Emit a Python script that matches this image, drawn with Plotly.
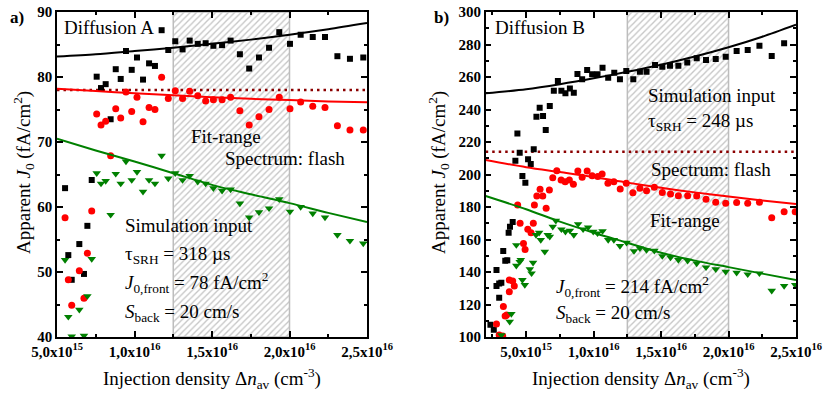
import plotly.graph_objects as go

E15 = 1e15

# ---------------- Panel a (Diffusion A) ----------------
xa = [5.52, 5.73, 5.95, 6.44, 6.74, 6.96, 7.24, 7.56, 7.84, 8.14, 8.46, 8.79, 9.11, 9.45,
      9.82, 10.16, 10.55, 10.94, 11.32, 11.75, 12.18, 12.63, 13.1, 13.56, 14.08, 14.59,
      15.09, 15.65, 16.2, 16.8, 17.4, 18.03, 18.68, 19.34, 20.03, 20.72, 21.5, 22.29,
      23.09, 23.9, 24.76]
ya_black = [62.9, 52.6, 48.8, 54.3, 49.7, 57.1, 64.15, 80.05, 78.3, 78.9, 73.5, 81.2, 79.7, 84.0,
            81.1, 83.0, 79.6, 82.1, 81.7, 87.2, 84.15, 85.5, 84.25, 85.6, 85.1, 85.2,
            84.8, 84.9, 85.6, 83.5, 81.3, 83.0, 84.5, 86.9, 85.1, 86.5, 86.15, 86.15,
            83.2, 82.8, 83.0]
ya_red = [58.35, 48.8, 44.9, 50.2, 45.95, 52.9, 59.4, 74.3, 72.6, 73.2, 67.9, 75.1, 73.7, 77.7,
          74.7, 76.9, 73.1, 75.3, 75.0, 79.95, 76.7, 77.9, 76.7, 77.8, 77.1, 76.3,
          76.5, 76.5, 76.9, 74.8, 72.6, 73.9, 75.0, 76.9, 75.1, 76.15, 75.5, 75.3,
          72.5, 71.85, 71.85]
ya_green = [51.85, 43.1, 40.1, 44.2, 40.2, 46.3, 52.0, 65.2, 63.6, 64.0, 58.8, 65.1, 63.6, 67.0,
            64.15, 65.4, 62.35, 64.15, 63.6, 67.9, 64.4, 65.2, 64.15, 64.8, 63.9, 63.6,
            62.9, 62.5, 62.7, 60.55, 58.4, 59.2, 59.8, 61.2, 59.3, 60.0, 59.0, 58.4,
            55.7, 54.8, 54.4]
fit_x = [5, 7.5, 10, 12.5, 15, 17.5, 20, 22.5, 25]
fit_a_black = [83.15, 83.5, 84.0, 84.5, 85.1, 85.75, 86.5, 87.35, 88.3]
fit_a_red = [78.2, 77.85, 77.5, 77.2, 76.9, 76.65, 76.45, 76.25, 76.1]
fit_a_green = [70.5, 68.7, 67.0, 65.2, 63.4, 61.95, 60.6, 59.1, 57.7]
j0_front_a = 78
range_a_x = [5, 25]
range_a_y = [40, 90]

# ---------------- Panel b (Diffusion B) ----------------
xb_black = [2.35, 2.6, 2.8, 2.8, 3.0, 3.0, 3.16, 3.3, 3.45, 3.6, 3.7, 3.8, 4.0, 4.2, 4.35, 4.52,
            4.72, 4.94, 5.14, 5.34, 5.56, 5.76, 6.0, 6.25, 6.45, 6.75, 7.05, 7.35, 7.61, 7.91,
            8.24, 8.53, 8.8, 9.15, 9.52, 9.89, 10.29, 10.66, 11.08, 11.53, 11.95, 12.42, 12.94,
            13.43, 13.92, 14.55, 15.09, 15.66, 16.28, 16.94, 17.64, 18.33, 19.05, 19.79, 20.6,
            21.42, 22.29, 23.2, 24.12]
yb_black = [107.5, 104.5, 141.2, 131.4, 133.0, 124.2, 133.4, 152.9, 147.0, 147.2, 164.2, 167.9,
            170.8, 208.5, 225.3, 213.4, 199.1, 195.0, 209.4, 206.5, 215.5, 235.6, 241.1, 236.0,
            227.4, 242.2, 251.6, 257.5, 251.6, 250.0, 253.0, 250.3, 261.8, 258.6, 264.3, 261.7,
            261.7, 265.7, 259.6, 262.6, 258.6, 263.7, 258.6, 263.3, 263.3, 267.4, 266.3, 267.0,
            267.0, 269.0, 271.5, 270.5, 271.1, 272.5, 276.0, 276.6, 279.3, 272.9, 280.7]
xb_red = [2.8, 3.0, 3.14, 3.26, 3.31, 3.44, 3.56, 3.75, 3.75, 4.0, 4.12, 4.37, 4.55, 4.8, 4.92,
          5.12, 5.36, 5.53, 5.61, 5.79, 6.03, 6.23, 6.48, 6.72, 6.97, 7.27, 7.59, 7.89, 8.2, 8.5,
          8.83, 9.15, 9.52, 9.89, 10.31, 10.63, 11.06, 11.5, 11.97, 12.42, 12.91, 13.43, 13.92,
          14.5, 15.09, 15.7, 16.28, 16.97, 17.64, 18.33, 19.05, 19.79, 20.6, 21.42, 22.29,
          23.2, 24.12, 24.94]
yb_red = [108.0, 101.2, 100.2, 100.6, 118.7, 112.9, 113.5, 127.9, 135.1, 134.5, 131.4, 181.2,
          170.0, 157.6, 153.9, 166.3, 164.2, 170.0, 181.2, 186.8, 190.9, 186.8, 179.2, 190.5,
          198.0, 202.3, 196.6, 195.6, 196.6, 194.0, 202.2, 198.3, 202.2, 199.3, 198.7, 200.3,
          194.6, 195.6, 191.1, 194.6, 188.8, 191.5, 190.0, 192.1, 189.0, 188.0, 187.0, 187.0,
          186.8, 184.7, 182.9, 182.3, 182.7, 182.3, 182.9, 173.4, 177.1, 177.1]
xb_green = [3.16, 3.78, 3.9, 4.27, 4.27, 4.52, 4.6, 4.72, 4.9, 5.27, 5.4, 5.51, 5.73, 5.96, 6.08,
            6.38, 6.6, 6.75, 6.97, 7.2, 7.61, 7.91, 8.24, 8.53, 8.85, 9.22, 9.59, 9.97, 10.29,
            10.66, 11.08, 11.5, 11.95, 12.44, 12.99, 13.43, 13.92, 14.5, 15.09, 15.7, 16.28,
            16.97, 17.64, 18.33, 19.05, 19.79, 20.6, 21.42, 22.29, 23.2, 24.12, 24.94]
yb_green = [101.2, 109.4, 114.2, 156.6, 143.9, 146.3, 147.4, 135.1, 132.0, 141.7, 139.2, 145.7,
            162.8, 164.2, 159.7, 152.5, 162.8, 161.7, 167.9, 171.6, 166.3, 164.8, 165.5, 162.8,
            169.5, 166.3, 167.5, 164.8, 163.8, 165.2, 159.7, 159.7, 156.0, 158.0, 152.9, 154.6,
            153.5, 153.1, 149.8, 149.0, 147.4, 147.0, 145.3, 142.9, 141.7, 140.2, 139.6, 138.6,
            139.2, 128.5, 131.4, 132.0]
fit_xb = [2, 5, 7.5, 10, 12.5, 15, 17.5, 20, 22.5, 25]
fit_b_black = [250.0, 252.5, 255.6, 259.2, 263.2, 267.6, 272.6, 278.3, 284.8, 292.2]
fit_b_red = [208.9, 204.5, 201.5, 198.5, 195.0, 191.8, 189.0, 186.4, 184.0, 181.8]
fit_b_green = [186.8, 178.6, 171.0, 164.2, 158.0, 151.8, 147.0, 143.0, 139.0, 135.1]
j0_front_b = 214
range_b_x = [2, 25]
range_b_y = [100, 300]

fit_range = [12.5, 20]
xtick_vals = [5, 10, 15, 20, 25]
xtick_text = ["5,0x10<sup>15</sup>", "1,0x10<sup>16</sup>", "1,5x10<sup>16</sup>",
              "2,0x10<sup>16</sup>", "2,5x10<sup>16</sup>"]

FONT = "Liberation Serif"
BLACK, RED, GREEN, MAROON = "#000000", "#ff0000", "#008000", "#8b0000"

fig = go.Figure()


def sc(v):
    return [t * E15 for t in v]


def add_panel(xr, yr, x_b, y_b, x_r, y_r, x_g, y_g, fx, fb, fr, fg, j0, xa_, ya_):
    # hatched fit range
    fig.add_trace(go.Scatter(
        x=sc([fit_range[0], fit_range[1], fit_range[1], fit_range[0], fit_range[0]]),
        y=[yr[0], yr[0], yr[1], yr[1], yr[0]], mode="lines", fill="toself",
        fillcolor="rgba(0,0,0,0)",
        fillpattern=dict(shape="/", fgcolor="#8e8e8e", bgcolor="white", size=4.5, solidity=0.3),
        line=dict(color="#bdbdbd", width=1.5), xaxis=xa_, yaxis=ya_, hoverinfo="skip",
        showlegend=False))
    fig.add_trace(go.Scatter(x=sc(xr), y=[j0, j0], mode="lines",
                             line=dict(color=MAROON, width=2.5, dash="2.5px,4px"),
                             xaxis=xa_, yaxis=ya_, showlegend=False))
    fig.add_trace(go.Scatter(x=sc(x_b), y=y_b, mode="markers",
                             marker=dict(symbol="square", size=6, color=BLACK),
                             xaxis=xa_, yaxis=ya_, showlegend=False))
    fig.add_trace(go.Scatter(x=sc(x_r), y=y_r, mode="markers",
                             marker=dict(symbol="circle", size=7, color=RED),
                             xaxis=xa_, yaxis=ya_, showlegend=False))
    fig.add_trace(go.Scatter(x=sc(x_g), y=y_g, mode="markers",
                             marker=dict(symbol="triangle-down", size=7.5, color=GREEN),
                             xaxis=xa_, yaxis=ya_, showlegend=False))
    for ys, col in ((fb, BLACK), (fr, RED), (fg, GREEN)):
        fig.add_trace(go.Scatter(x=sc(fx), y=ys, mode="lines", line=dict(color=col, width=2,
                                 shape="spline", smoothing=0.8),
                                 xaxis=xa_, yaxis=ya_, showlegend=False))


add_panel(range_a_x, range_a_y, xa, ya_black, xa, ya_red, xa, ya_green,
          fit_x, fit_a_black, fit_a_red, fit_a_green, j0_front_a, "x", "y")
add_panel(range_b_x, range_b_y, xb_black, yb_black, xb_red, yb_red, xb_green, yb_green,
          fit_xb, fit_b_black, fit_b_red, fit_b_green, j0_front_b, "x2", "y2")

W, H = 836, 396
ax_common = dict(showline=True, linecolor="black", linewidth=1.5, mirror="allticks",
                 ticks="inside", ticklen=6, tickwidth=1.5, tickcolor="black",
                 showgrid=False, zeroline=False, automargin=False,
                 tickfont=dict(family=FONT, size=15, color="black", weight="bold"))
minor_common = dict(ticks="inside", ticklen=3.5, tickwidth=1.5, tickcolor="black")
xdom_a = [57 / W, 367 / W]
xdom_b = [485.7 / W, 796 / W]
ydom = [(H - 337) / H, (H - 12) / H]

fig.update_layout(
    width=W, height=H, autosize=False,
    margin=dict(l=0, r=0, t=0, b=0, pad=0, autoexpand=False),
    showlegend=False,
    paper_bgcolor="white", plot_bgcolor="white",
    xaxis=dict(domain=xdom_a, range=sc(range_a_x), anchor="y", tickvals=sc(xtick_vals),
               ticktext=xtick_text,
               minor=dict(tickvals=sc([7.5, 12.5, 17.5, 22.5]), **minor_common), **ax_common),
    yaxis=dict(domain=ydom, range=range_a_y, anchor="x", tickvals=[40, 50, 60, 70, 80, 90],
               minor=dict(tickvals=[45, 55, 65, 75, 85], **minor_common), **ax_common),
    xaxis2=dict(domain=xdom_b, range=sc(range_b_x), anchor="y2", tickvals=sc(xtick_vals),
                ticktext=xtick_text,
                minor=dict(tickvals=sc([2.5, 7.5, 12.5, 17.5, 22.5]), **minor_common),
                **ax_common),
    yaxis2=dict(domain=ydom, range=range_b_y, anchor="x2",
                tickvals=[100, 120, 140, 160, 180, 200, 220, 240, 260, 280, 300],
                minor=dict(tickvals=[110, 130, 150, 170, 190, 210, 230, 250, 270, 290],
                           **minor_common),
                **ax_common),
    font=dict(family=FONT, color="black"),
)

TF = dict(family=FONT, size=19, color="black")
ann = []


def txt(x, y, s, xref, yref, xanchor="left", size=19, bold=False):
    f = dict(TF)
    f["size"] = size
    if bold:
        f["weight"] = "bold"
    ann.append(dict(x=x, y=y, xref=xref, yref=yref, text=s, showarrow=False,
                    xanchor=xanchor, yanchor="middle", font=f))


# panel a texts
txt(5.32 * E15, 87.6, "Diffusion A", "x", "y")
txt(15.9 * E15, 70.9, "Fit-range", "x", "y", xanchor="center")
txt(19.7 * E15, 67.5, "Spectrum: flash", "x", "y", xanchor="center")
txt(9.26 * E15, 57.2, "Simulation input", "x", "y")
txt(9.26 * E15, 52.6, "τ<sub>SRH</sub> = 318 µs", "x", "y")
txt(9.26 * E15, 48.4, "<i>J</i><sub>0,front</sub> = 78 fA/cm<sup>2</sup>", "x", "y")
txt(9.26 * E15, 43.7, "<i>S</i><sub>back</sub> = 20 cm/s", "x", "y")
# panel b texts
txt(2.54 * E15, 290.5, "Diffusion B", "x2", "y2")
txt(13.9 * E15, 248.6, "Simulation input", "x2", "y2")
txt(13.9 * E15, 232.0, "τ<sub>SRH</sub> = 248 µs", "x2", "y2")
txt(14.12 * E15, 203.1, "Spectrum: flash", "x2", "y2")
txt(14.05 * E15, 171.7, "Fit-range", "x2", "y2")
txt(7.07 * E15, 130.8, "<i>J</i><sub>0,front</sub> = 214 fA/cm<sup>2</sup>", "x2", "y2")
txt(7.07 * E15, 114.2, "<i>S</i><sub>back</sub> = 20 cm/s", "x2", "y2")

# panel labels
txt(8 / W, 1 - 17 / H, "a)", "paper", "paper", size=17, bold=True)
txt(432 / W, 1 - 17 / H, "b)", "paper", "paper", size=17, bold=True)

# axis titles
for cx in (212 / W, 641 / W):
    ann.append(dict(x=cx, y=1 - 378 / H, xref="paper", yref="paper", showarrow=False,
                    xanchor="center", yanchor="middle", font=TF,
                    text="Injection density Δ<i>n</i><sub>av</sub> (cm<sup>-3</sup>)"))
for cx in (23 / W, 438 / W):
    ann.append(dict(x=cx, y=1 - 173 / H, xref="paper", yref="paper", showarrow=False,
                    xanchor="center", yanchor="middle", textangle=-90, font=TF,
                    text="Apparent <i>J</i><sub>0</sub> (fA/cm<sup>2</sup>)"))

fig.update_layout(annotations=ann)
fig.write_html("out.html")
